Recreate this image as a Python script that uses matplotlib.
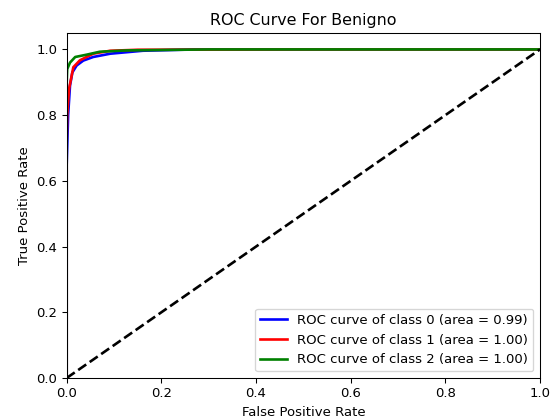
import matplotlib
matplotlib.use("Agg")
import matplotlib.pyplot as plt

# ROC points (false positive rate, true positive rate) per class
fpr_0 = [0.0, 0.0, 0.003, 0.007, 0.012, 0.021, 0.035, 0.056, 0.092, 0.161, 0.27, 1.0]
tpr_0 = [0.0, 0.65, 0.80, 0.89, 0.93, 0.951, 0.966, 0.977, 0.987, 0.996, 1.0, 1.0]

fpr_1 = [0.0, 0.0, 0.001, 0.005, 0.014, 0.028, 0.056, 0.092, 0.15, 0.48, 1.0]
tpr_1 = [0.0, 0.72, 0.80, 0.88, 0.946, 0.967, 0.987, 0.996, 0.999, 1.0, 1.0]

fpr_2 = [0.0, 0.0, 0.001, 0.007, 0.018, 0.042, 0.07, 0.127, 0.3, 1.0]
tpr_2 = [0.0, 0.90, 0.94, 0.96, 0.977, 0.984, 0.993, 0.997, 1.0, 1.0]

aucs = [0.99, 1.00, 1.00]
colors = ["blue", "red", "green"]

DPI = 95
fig = plt.figure(figsize=(554 / DPI, 420 / DPI), dpi=DPI)
ax = fig.add_axes([66.7 / 554, 42 / 420, (540 - 66.7) / 554, (378 - 33) / 420])

curves = [(fpr_0, tpr_0), (fpr_1, tpr_1), (fpr_2, tpr_2)]
for i, ((fpr, tpr), c, a) in enumerate(zip(curves, colors, aucs)):
    ax.plot(fpr, tpr, color=c, lw=2,
            label="ROC curve of class {0} (area = {1:0.2f})".format(i, a))

ax.plot([0, 1], [0, 1], "k--", lw=2)
ax.set_xlim([0.0, 1.0])
ax.set_ylim([0.0, 1.05])
ax.set_xlabel("False Positive Rate")
ax.set_ylabel("True Positive Rate")
ax.set_title("ROC Curve For Benigno")
ax.legend(loc="lower right")

fig.savefig("out.png", dpi=DPI)
